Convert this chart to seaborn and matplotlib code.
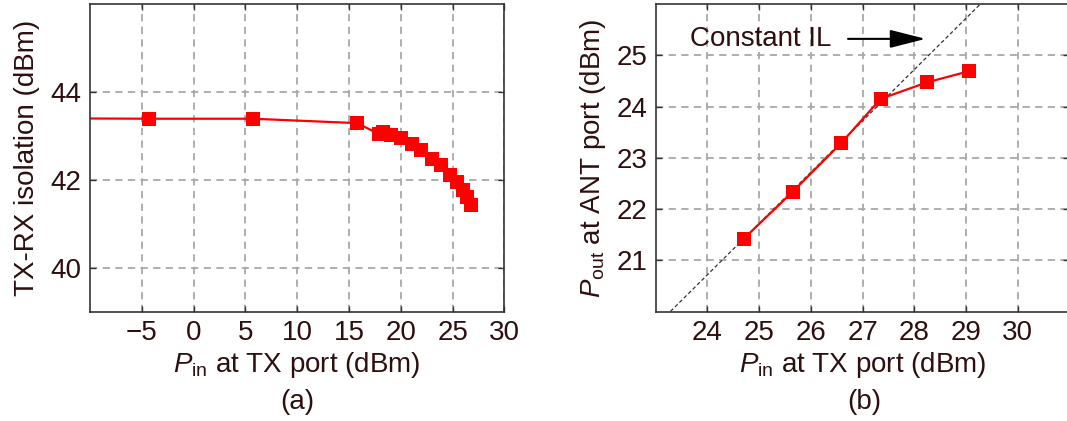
import numpy as np
import pandas as pd
import matplotlib
matplotlib.use("Agg")
import matplotlib.pyplot as plt
import seaborn as sns

# (a) TX-RX isolation versus input power
pin_a = [-14.0, -4.3, 5.75, 15.8, 17.9, 18.3, 19.1, 20.07, 21.04, 22.0, 22.98,
         23.88, 24.75, 25.4, 26.04, 26.43, 26.75]
iso_a = [43.4, 43.39, 43.39, 43.29, 43.04, 43.08, 43.02, 42.95, 42.82, 42.67,
         42.48, 42.33, 42.12, 41.95, 41.76, 41.6, 41.42]

# (b) output power at the antenna port versus input power
pin_b = [24.70, 25.65, 26.58, 27.35, 28.24, 29.06]
pout_b = [21.42, 22.34, 23.28, 24.15, 24.47, 24.69]

# constant insertion-loss reference line
il_x = [22.0, 32.0]
il_loss = 3.28

xticks_a = [-5, 0, 5, 10, 15, 20, 25, 30]
yticks_a = [40, 42, 44]
xticks_b = [24, 25, 26, 27, 28, 29, 30]
yticks_b = [21, 22, 23, 24, 25]

sns.set_theme(style="ticks")
plt.rcParams["font.family"] = ["Liberation Sans", "DejaVu Sans"]
plt.rcParams["mathtext.fontset"] = "custom"
plt.rcParams["mathtext.rm"] = "Liberation Sans"
plt.rcParams["mathtext.it"] = "Liberation Sans:italic"

TXT = "#2e0f0f"
FS = 20
RED = "#ff0000"

fig = plt.figure(figsize=(10.67, 4.21), dpi=100)
ax1 = fig.add_axes([0.0843, 0.2596, 0.3884, 0.7309])
ax2 = fig.add_axes([0.6145, 0.2596, 0.3877, 0.7309])


def style_axes(ax):
    ax.grid(True, color="#a8a8a8", linestyle=(0, (4, 3)), linewidth=1.3)
    ax.set_axisbelow(True)
    for s in ax.spines.values():
        s.set_color("#333333")
        s.set_linewidth(1.2)
    ax.tick_params(direction="in", length=4, width=1, colors="#333333",
                   top=True, right=True, labelsize=FS, labelcolor=TXT, pad=6)


df_a = pd.DataFrame({"pin": pin_a, "iso": iso_a})
sns.lineplot(data=df_a, x="pin", y="iso", ax=ax1, color=RED, linewidth=1.6,
             marker="s", markersize=9.5, markeredgewidth=0, sort=False)
ax1.set_xlim(-10, 30)
ax1.set_ylim(39, 46)
ax1.set_xticks(xticks_a)
ax1.set_xticklabels(["\u22125" if t < 0 else str(t) for t in xticks_a])
ax1.set_yticks(yticks_a)
style_axes(ax1)
ax1.set_xlabel(r"$P_{\rm in}$ at TX port (dBm)", fontsize=FS, color=TXT, labelpad=3)
ax1.set_ylabel("TX-RX isolation (dBm)", fontsize=FS, color=TXT, labelpad=8)

il_df = pd.DataFrame({"x": il_x, "y": [v - il_loss for v in il_x]})
sns.lineplot(data=il_df, x="x", y="y", ax=ax2, color="#333333", linewidth=0.9,
             linestyle=(0, (3, 2)))
df_b = pd.DataFrame({"pin": pin_b, "pout": pout_b})
sns.lineplot(data=df_b, x="pin", y="pout", ax=ax2, color=RED, linewidth=1.6,
             marker="s", markersize=9.5, markeredgewidth=0, sort=False)
ax2.set_xlim(23, 31)
ax2.set_ylim(20, 26)
ax2.set_xticks(xticks_b)
ax2.set_yticks(yticks_b)
style_axes(ax2)
ax2.set_xlabel(r"$P_{\rm in}$ at TX port (dBm)", fontsize=FS, color=TXT, labelpad=3)
ax2.set_ylabel(r"$P_{\rm out}$ at ANT port (dBm)", fontsize=FS, color=TXT, labelpad=6)

ax2.text(23.66, 25.32, "Constant IL", fontsize=FS, color=TXT, ha="left", va="center")
ax2.annotate("", xy=(28.22, 25.32), xytext=(26.72, 25.32),
             arrowprops=dict(arrowstyle="-|>,head_length=1.1,head_width=0.28",
                             mutation_scale=20, lw=1.5, color="black",
                             shrinkA=0, shrinkB=0))

fig.text(297 / 1067, 1 - 402 / 421, "(a)", fontsize=FS, color=TXT, ha="center", va="center")
fig.text(864 / 1067, 1 - 402 / 421, "(b)", fontsize=FS, color=TXT, ha="center", va="center")

fig.savefig("out.png", dpi=100)
